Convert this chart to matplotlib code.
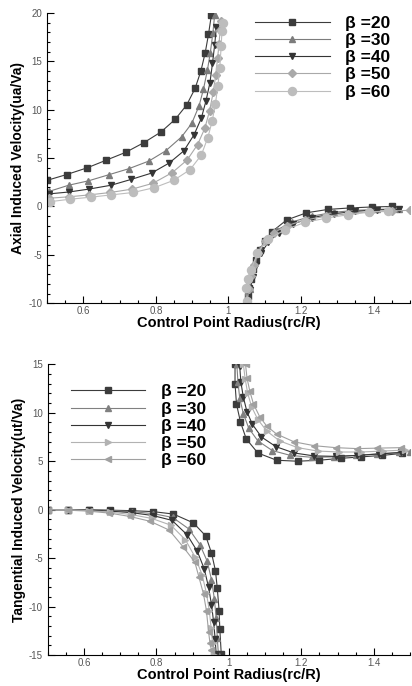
import matplotlib.pyplot as plt
from matplotlib.ticker import MultipleLocator
from matplotlib.lines import Line2D

plt.rcParams['font.family'] = ['Liberation Sans', 'DejaVu Sans']

betas = [20, 30, 40, 50, 60]

# axial induced velocity, inner branch (rc/R < 1)
ua_in_x = {
    20: [0.5, 0.554, 0.611, 0.664, 0.717, 0.767, 0.814, 0.853, 0.885, 0.908, 0.924, 0.936, 0.945, 0.953],
    30: [0.505, 0.56, 0.614, 0.672, 0.725, 0.781, 0.827, 0.871, 0.899, 0.919, 0.931, 0.942, 0.95, 0.957, 0.962],
    40: [0.505, 0.561, 0.616, 0.677, 0.732, 0.788, 0.837, 0.877, 0.905, 0.925, 0.938, 0.949, 0.956, 0.962, 0.967],
    50: [0.505, 0.56, 0.617, 0.675, 0.735, 0.792, 0.845, 0.886, 0.915, 0.935, 0.948, 0.958, 0.965, 0.97, 0.974, 0.977, 0.98],
    60: [0.509, 0.563, 0.62, 0.677, 0.738, 0.796, 0.849, 0.894, 0.925, 0.943, 0.955, 0.964, 0.971, 0.976, 0.98, 0.982, 0.984],
}
ua_in_y = {
    20: [2.7, 3.3, 4.0, 4.8, 5.6, 6.6, 7.7, 9.0, 10.5, 12.2, 14.0, 15.9, 17.8, 19.8],
    30: [1.55, 2.2, 2.65, 3.3, 3.9, 4.7, 5.75, 7.2, 8.6, 10.4, 12.1, 14.1, 15.9, 17.9, 19.8],
    40: [1.3, 1.5, 1.8, 2.2, 2.8, 3.45, 4.5, 5.75, 7.4, 9.1, 10.9, 12.8, 14.8, 16.7, 18.6],
    50: [0.85, 1.0, 1.2, 1.45, 1.8, 2.4, 3.5, 4.8, 6.4, 8.1, 9.9, 11.8, 13.6, 15.3, 16.8, 18.2, 19.2],
    60: [0.5, 0.75, 0.96, 1.2, 1.45, 1.95, 2.7, 3.8, 5.3, 7.1, 8.8, 10.6, 12.5, 14.3, 16.6, 18.1, 19.0],
}
# axial induced velocity, outer branch (rc/R > 1)
ua_out_x = {
    20: [1.052, 1.054, 1.057, 1.061, 1.067, 1.075, 1.086, 1.1, 1.12, 1.16, 1.215, 1.275, 1.335, 1.395, 1.45],
    30: [1.053, 1.058, 1.065, 1.074, 1.088, 1.108, 1.135, 1.175, 1.23, 1.29, 1.35, 1.41, 1.47],
    40: [1.055, 1.06, 1.067, 1.077, 1.09, 1.11, 1.138, 1.178, 1.23, 1.29, 1.35, 1.41, 1.47],
    50: [1.05, 1.056, 1.063, 1.07, 1.082, 1.1, 1.125, 1.16, 1.21, 1.27, 1.33, 1.39, 1.45, 1.5],
    60: [1.05, 1.047, 1.053, 1.062, 1.08, 1.108, 1.157, 1.21, 1.27, 1.33, 1.386, 1.44],
}
ua_out_y = {
    20: [-10.0, -9.3, -8.4, -7.5, -6.5, -5.5, -4.5, -3.6, -2.6, -1.4, -0.65, -0.3, -0.15, -0.05, 0.0],
    30: [-9.9, -8.5, -7.0, -5.7, -4.4, -3.3, -2.4, -1.6, -1.0, -0.6, -0.4, -0.3, -0.25],
    40: [-9.9, -8.6, -7.3, -6.0, -4.8, -3.7, -2.7, -1.8, -1.15, -0.75, -0.5, -0.35, -0.3],
    50: [-9.9, -8.5, -7.2, -6.0, -4.8, -3.6, -2.7, -2.0, -1.4, -1.0, -0.75, -0.55, -0.45, -0.4],
    60: [-9.8, -8.4, -7.5, -6.6, -4.8, -3.4, -2.4, -1.65, -1.2, -0.85, -0.6, -0.5],
}

# tangential induced velocity, inner branch
ut_in_x = {
    20: [0.5, 0.556, 0.614, 0.673, 0.732, 0.791, 0.847, 0.902, 0.936, 0.952, 0.963, 0.968, 0.973, 0.975, 0.979],
    30: [0.5, 0.556, 0.614, 0.673, 0.732, 0.79, 0.845, 0.89, 0.92, 0.94, 0.952, 0.96, 0.965, 0.968, 0.971],
    40: [0.5, 0.556, 0.614, 0.673, 0.73, 0.79, 0.843, 0.885, 0.913, 0.932, 0.944, 0.952, 0.958, 0.962, 0.965],
    50: [0.5, 0.556, 0.614, 0.672, 0.73, 0.787, 0.84, 0.88, 0.907, 0.926, 0.938, 0.946, 0.951, 0.955, 0.958],
    60: [0.5, 0.556, 0.613, 0.67, 0.727, 0.783, 0.835, 0.873, 0.906, 0.917, 0.93, 0.938, 0.944, 0.948, 0.952],
}
ut_in_y = {
    20: [0.0, 0.0, 0.0, -0.05, -0.1, -0.2, -0.45, -1.36, -2.7, -4.45, -6.3, -8.1, -10.4, -12.3, -14.9],
    30: [0.0, 0.0, 0.0, -0.1, -0.2, -0.4, -0.8, -2.0, -3.6, -5.3, -7.2, -9.2, -11.2, -13.2, -14.9],
    40: [0.0, 0.0, -0.05, -0.15, -0.3, -0.6, -1.1, -2.6, -4.3, -6.1, -8.0, -9.8, -11.6, -13.3, -14.9],
    50: [0.0, 0.0, -0.1, -0.25, -0.5, -0.9, -1.6, -3.1, -4.9, -6.7, -8.6, -10.4, -12.2, -13.8, -15.0],
    60: [0.0, -0.05, -0.15, -0.35, -0.7, -1.2, -2.1, -3.8, -5.4, -6.9, -8.7, -10.4, -12.6, -13.8, -14.5],
}
# tangential induced velocity, outer branch
ut_out_x = {
    20: [1.017, 1.017, 1.021, 1.032, 1.048, 1.08, 1.132, 1.19, 1.248, 1.31, 1.366, 1.423, 1.477],
    30: [1.022, 1.025, 1.03, 1.04, 1.055, 1.08, 1.12, 1.17, 1.23, 1.29, 1.35, 1.41, 1.47, 1.5],
    40: [1.03, 1.033, 1.04, 1.05, 1.065, 1.09, 1.13, 1.18, 1.235, 1.295, 1.355, 1.415, 1.475],
    50: [1.04, 1.045, 1.052, 1.063, 1.08, 1.105, 1.14, 1.19, 1.245, 1.305, 1.365, 1.425, 1.485],
    60: [1.046, 1.05, 1.058, 1.068, 1.085, 1.105, 1.132, 1.18, 1.236, 1.295, 1.355, 1.41, 1.476],
}
ut_out_y = {
    20: [15.0, 13.0, 10.9, 9.05, 7.3, 5.85, 5.1, 5.0, 5.1, 5.3, 5.45, 5.6, 5.8],
    30: [15.0, 13.2, 11.5, 9.9, 8.4, 7.1, 6.1, 5.6, 5.4, 5.45, 5.6, 5.75, 5.9, 6.0],
    40: [14.8, 13.2, 11.6, 10.1, 8.8, 7.5, 6.5, 5.85, 5.55, 5.5, 5.6, 5.75, 5.9],
    50: [15.0, 13.5, 12.0, 10.6, 9.3, 8.1, 7.1, 6.4, 6.05, 5.95, 5.95, 6.05, 6.15],
    60: [15.0, 13.6, 12.2, 10.9, 9.6, 8.6, 7.8, 7.0, 6.6, 6.4, 6.3, 6.35, 6.4],
}

top_style = {
    20: ('s', '#3c3c3c', 4.6),
    30: ('^', '#7c7c7c', 4.8),
    40: ('v', '#353535', 4.8),
    50: ('D', '#a9a9a9', 4.2),
    60: ('o', '#bdbdbd', 5.8),
}
bot_style = {
    20: ('s', '#3c3c3c', 4.6),
    30: ('^', '#808080', 4.8),
    40: ('v', '#353535', 4.8),
    50: ('>', '#b2b2b2', 4.8),
    60: ('<', '#a0a0a0', 4.8),
}


def style_axes(ax, ylim, ymajor, ylabel):
    ax.set_xlim(0.5, 1.5)
    ax.set_ylim(*ylim)
    ax.xaxis.set_major_locator(MultipleLocator(0.2))
    ax.xaxis.set_minor_locator(MultipleLocator(0.05))
    ax.yaxis.set_major_locator(MultipleLocator(ymajor))
    ax.yaxis.set_minor_locator(MultipleLocator(1))
    ax.xaxis.set_major_formatter(plt.FuncFormatter(lambda v, p: f'{v:g}'))
    ax.yaxis.set_major_formatter(plt.FuncFormatter(lambda v, p: f'{v:g}'))
    ax.spines['top'].set_visible(False)
    ax.spines['right'].set_visible(False)
    ax.tick_params(which='both', direction='in', labelsize=7, labelcolor='#555555', width=0.8)
    ax.tick_params(which='major', length=5)
    ax.tick_params(which='minor', length=2.5)
    ax.tick_params(axis='x', pad=2)
    ax.set_xlabel('Control Point Radius(rc/R)', fontsize=10.5, fontweight='bold', labelpad=0)
    ax.set_ylabel(ylabel, fontsize=10, fontweight='bold', labelpad=2)


def draw(ax, xin, yin, xout, yout, styles):
    handles = []
    for b in betas:
        m, c, ms = styles[b]
        kw = dict(color=c, marker=m, markersize=ms, markerfacecolor=c,
                  markeredgecolor=c, lw=0.8, clip_on=True)
        ax.plot(xin[b], yin[b], **kw)
        ax.plot(xout[b], yout[b], **kw)
        handles.append(Line2D([], [], **kw))
    return handles


fig = plt.figure(figsize=(4.12, 6.86), dpi=100)
ax1 = fig.add_axes([0.114, 0.558, 0.881, 0.423])
ax2 = fig.add_axes([0.116, 0.045, 0.879, 0.424])

legend_kw = dict(loc='upper left', frameon=False, handlelength=4.3, handletextpad=0.9,
                 labelspacing=0.12, prop={'weight': 'bold', 'size': 12.5})

h1 = draw(ax1, ua_in_x, ua_in_y, ua_out_x, ua_out_y, top_style)
style_axes(ax1, (-10, 20), 5, 'Axial Induced Velocity(ua/Va)')
ax1.legend(h1, [f'β ={b}' for b in betas], bbox_to_anchor=(0.53, 1.045), **legend_kw)

h2 = draw(ax2, ut_in_x, ut_in_y, ut_out_x, ut_out_y, bot_style)
style_axes(ax2, (-15, 15), 5, 'Tangential Induced Velocity(ut/Va)')
ax2.legend(h2, [f'β ={b}' for b in betas], bbox_to_anchor=(0.02, 0.985), **legend_kw)

fig.savefig('out.png', dpi=100)
